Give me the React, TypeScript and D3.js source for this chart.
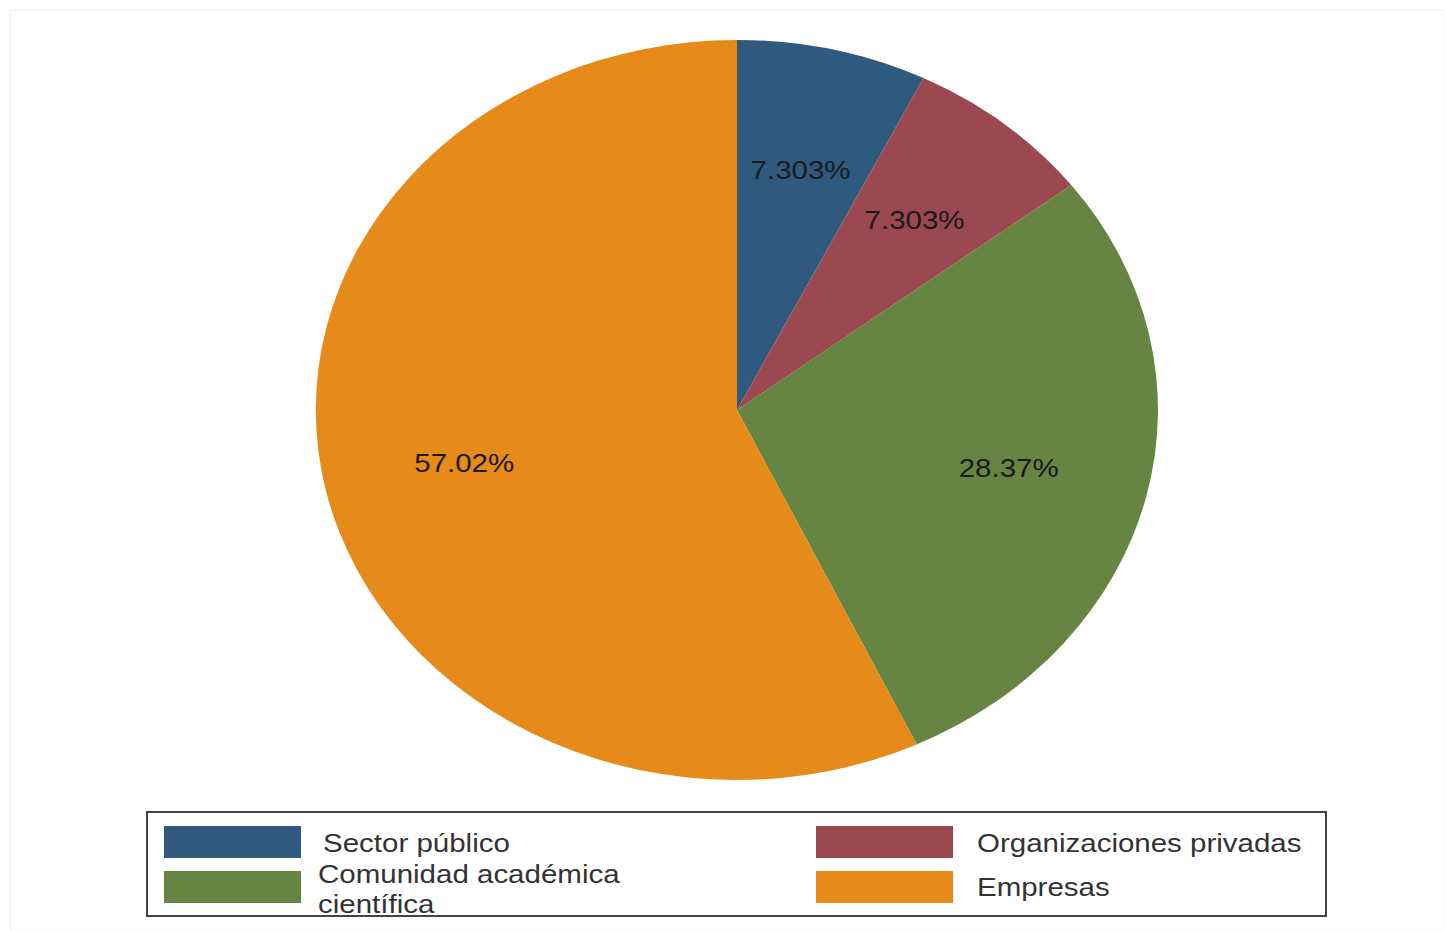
import React from "react";
import * as d3 from "d3";

const categories = ["Sector público", "Organizaciones privadas", "Comunidad académica científica", "Empresas"];
const values = [7.303, 7.303, 28.37, 57.02];
const valueLabels = ["7.303%", "7.303%", "28.37%", "57.02%"];
const colors = ["#2f5a7e", "#9b4850", "#668542", "#e68b1a"];

const legendItems = [
  { idx: 0, col: 0, row: 0, lines: ["Sector público"] },
  { idx: 1, col: 1, row: 0, lines: ["Organizaciones privadas"] },
  { idx: 2, col: 0, row: 1, lines: ["Comunidad académica", "científica"] },
  { idx: 3, col: 1, row: 1, lines: ["Empresas"] },
];

export default function App() {
  const W = 1445, H = 931;
  const cx = 737, cy = 410, rx = 421, ry = 370;
  const pie = d3.pie<number>().sort(null).value((d) => d);
  const arcs = pie(values);
  const arc = d3.arc<d3.PieArcDatum<number>>().innerRadius(0).outerRadius(1);
  const font = "Liberation Sans, Arial, Helvetica, sans-serif";
  const sx = 1.18;

  return (
    <svg width={W} height={H} style={{ position: "absolute", left: 0, top: 0, background: "#fff" }}>
      <rect x={10} y={10} width={W - 10} height={H - 10} fill="#fff" stroke="#f3f3f3" />
      <g transform={`translate(${cx},${cy}) scale(${rx},${ry})`}>
        {arcs.map((a, i) => (
          <path key={i} d={arc(a) || ""} fill={colors[i]} />
        ))}
      </g>
      {arcs.map((a, i) => {
        const mid = (a.startAngle + a.endAngle) / 2;
        const r = 0.664;
        const x = cx + rx * r * Math.sin(mid);
        const y = cy - ry * r * Math.cos(mid);
        return (
          <text key={i} transform={`translate(${x},${y}) scale(${sx},1)`} textAnchor="middle" dominantBaseline="central"
            fontFamily={font} fontSize={25} fill="#1a1a1a">{valueLabels[i]}</text>
        );
      })}
      <rect x={147} y={812} width={1179} height={104} fill="#fff" stroke="#444" strokeWidth={2} />
      {legendItems.map((it) => {
        const rxp = it.col === 0 ? 164 : 816;
        const ryp = it.row === 0 ? 826 : 871;
        const tx = it.col === 0 ? (it.row === 0 ? 323 : 318) : 977;
        const ty = it.row === 0 ? 852 : (it.lines.length > 1 ? 883 : 896);
        return (
          <g key={it.idx}>
            <rect x={rxp} y={ryp} width={137} height={32} fill={colors[it.idx]} />
            {it.lines.map((l, k) => (
              <text key={k} transform={`translate(${tx},${ty + k * 30}) scale(${sx},1)`}
                fontFamily={font} fontSize={25} fill="#333">{l}</text>
            ))}
          </g>
        );
      })}
    </svg>
  );
}
